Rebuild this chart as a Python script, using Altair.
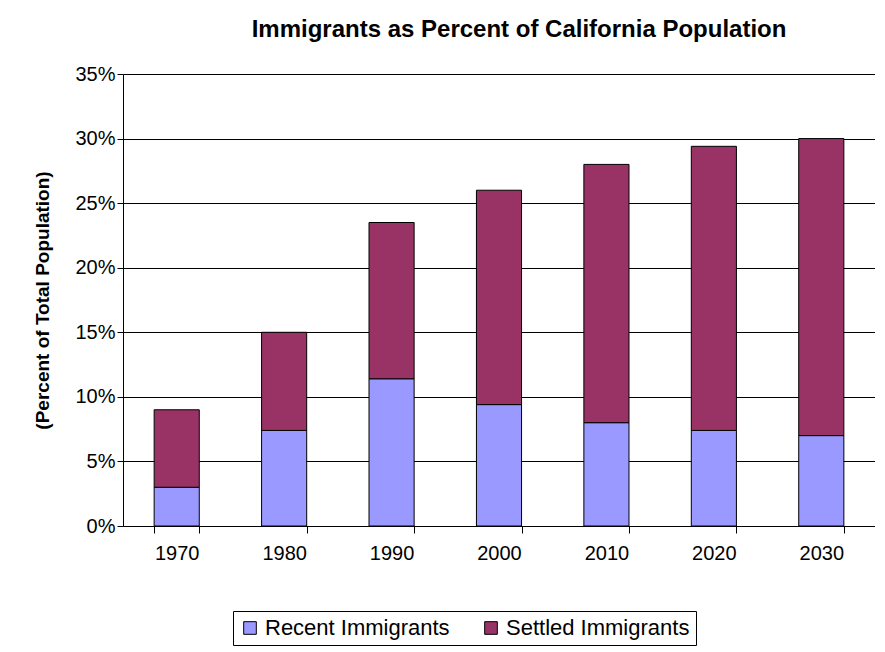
import altair as alt
import pandas as pd

years = ["1970", "1980", "1990", "2000", "2010", "2020", "2030"]
recent = [3.0, 7.4, 11.4, 9.4, 8.0, 7.4, 7.0]
total = [9.0, 15.0, 23.5, 26.0, 28.0, 29.4, 30.0]

rows = []
for y, r, t in zip(years, recent, total):
    rows.append({"year": y, "series": "Recent Immigrants", "value": r / 100, "order": 0})
    rows.append({"year": y, "series": "Settled Immigrants", "value": (t - r) / 100, "order": 1})
df = pd.DataFrame(rows)

chart = alt.Chart(df).mark_bar(stroke="black", strokeWidth=1).encode(
    x=alt.X("year:N", title=None, sort=years,
            scale=alt.Scale(paddingInner=0.58, paddingOuter=0.29),
            axis=alt.Axis(labelAngle=0, tickBand="extent", ticks=True, grid=False, labelFontSize=20,
                          labelPadding=10, tickSize=7, domainColor="black", tickColor="black",
                          labelColor="black", labelFont="Liberation Sans")),
    y=alt.Y("value:Q", title="(Percent of Total Population)", stack="zero",
            scale=alt.Scale(domain=[0, 0.35]),
            axis=alt.Axis(format=".0%", values=[i / 100 for i in range(0, 36, 5)], gridColor="black",
                          gridOpacity=1, labelFontSize=20, titleFontSize=19, titleFontWeight="bold",
                          domain=True, domainColor="black", tickColor="black", labelColor="black", titleColor="black",
                          labelFont="Liberation Sans", titleFont="Liberation Sans", titlePadding=22, tickSize=6)),
    color=alt.Color("series:N", scale=alt.Scale(domain=["Recent Immigrants", "Settled Immigrants"],
                                                range=["#9999FF", "#993366"]),
                    legend=alt.Legend(title=None, orient="none", legendX=110, legendY=537, direction="horizontal",
                                      symbolType="square", symbolStrokeColor="black", symbolStrokeWidth=1,
                                      symbolSize=160, symbolOpacity=1, labelLimit=400,
                                      labelFontSize=22, labelFont="Liberation Sans", labelColor="black",
                                      strokeColor="black", padding=6, columnPadding=30)),
    order=alt.Order("order:Q"),
).properties(
    width=752, height=452,
    padding={"left": 25, "top": 10, "right": 0, "bottom": 5},
    title=alt.Title("Immigrants as Percent of California Population", fontSize=24,
                    font="Liberation Sans", fontWeight="bold", color="black", offset=22,
                    anchor="middle", dx=20),
).configure_view(stroke=None)

chart.save("out.html", embed_options={"renderer": "svg", "actions": False})
